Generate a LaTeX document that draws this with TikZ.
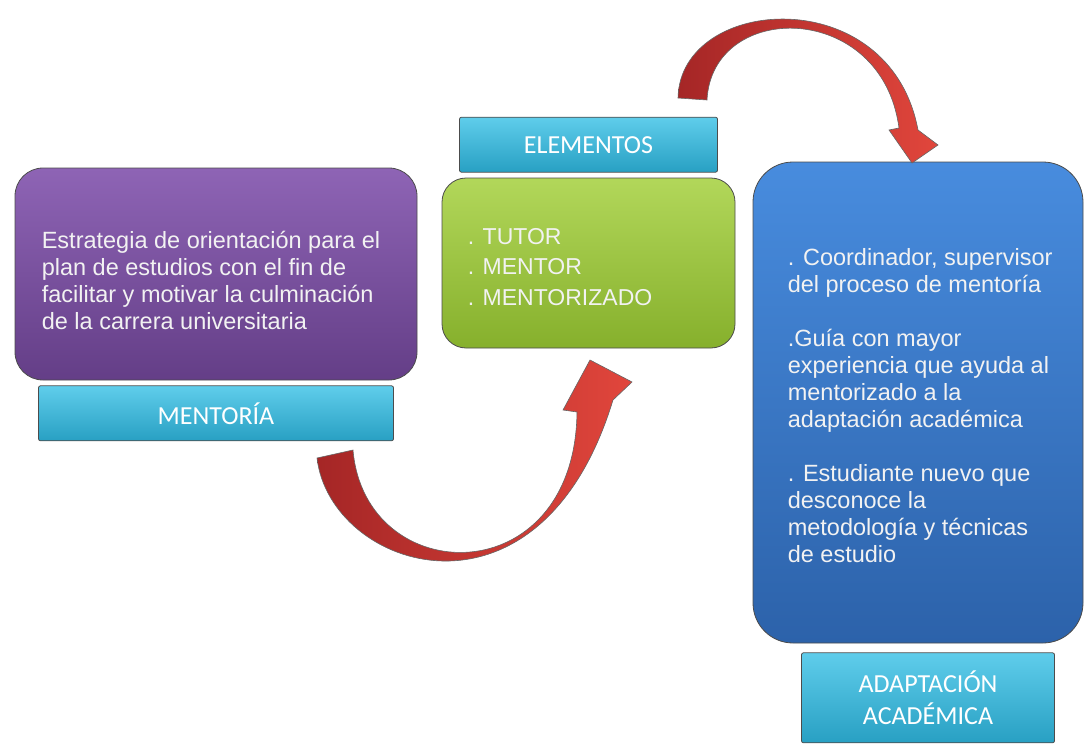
\documentclass[tikz,border=0pt]{standalone}
\usepackage{fontspec}
\setmainfont{Liberation Sans}
\newfontfamily\labelfont{Carlito}
\usetikzlibrary{positioning}
\definecolor{purpletop}{RGB}{142,100,181}
\definecolor{purplebot}{RGB}{100,62,135}
\definecolor{greentop}{RGB}{178,215,90}
\definecolor{greenbot}{RGB}{134,176,44}
\definecolor{bluetop}{RGB}{72,140,222}
\definecolor{bluebot}{RGB}{44,98,170}
\definecolor{cyantop}{RGB}{95,205,235}
\definecolor{cyanbot}{RGB}{40,160,195}
\definecolor{arrowdark}{RGB}{165,38,38}
\definecolor{arrowlight}{RGB}{225,70,60}
\begin{document}
\begin{tikzpicture}[x=1pt,y=-1pt,
  panelbox/.style={draw=black!70,line width=0.8pt,inner sep=0pt},
  tabbox/.style={draw=black!70,line width=0.8pt,rounded corners=2pt,top color=cyantop,bottom color=cyanbot,
    text=white,font=\labelfont\fontsize{26}{32}\selectfont,align=center,inner sep=0pt},
  bodytext/.style={text=white!95!black,align=left,inner sep=0pt,anchor=west,font=\fontsize{23.5}{27}\selectfont},
  bandarrow/.style={draw=black!60,line width=0.6pt,left color=arrowdark,right color=arrowlight}]
\useasboundingbox (0,0) rectangle (1085,744);
% boxes
\node[panelbox,rounded corners=28pt,top color=purpletop,bottom color=purplebot,minimum width=402pt,minimum height=212pt] (mentoria) at (216,274) {};
\node[panelbox,rounded corners=24pt,top color=greentop,bottom color=greenbot,minimum width=293pt,minimum height=170pt] (elementos) at (588.5,263) {};
\node[panelbox,rounded corners=40pt,top color=bluetop,bottom color=bluebot,minimum width=330pt,minimum height=481pt] (adaptacion) at (918,402.5) {};
% labels
\node[tabbox,minimum width=355pt,minimum height=55pt,below=5pt of mentoria] (mentorialabel) {MENTORÍA};
\node[tabbox,minimum width=258pt,minimum height=55pt,above=5pt of elementos] (elementoslabel) {ELEMENTOS};
\node[tabbox,minimum width=253pt,minimum height=90pt,below=9pt of adaptacion,xshift=10pt] (adaptacionlabel) {ADAPTACIÓN\\ACADÉMICA};
% texts
\node[bodytext,xshift=27pt,yshift=-6pt] (mentoriatext) at (mentoria.west) {Estrategia de orientación para el\\plan de estudios con el fin de\\facilitar y motivar la culminación\\de la carrera universitaria};
\node[bodytext,xshift=26pt,yshift=-4pt,font=\fontsize{23}{30.5}\selectfont] (elementostext) at (elementos.west) {. TUTOR\\. MENTOR\\. MENTORIZADO};
\node[bodytext,xshift=35pt,yshift=-3pt] (adaptaciontext) at (adaptacion.west) {. Coordinador, supervisor\\del proceso de mentoría\\[27pt]
  .Guía con mayor\\experiencia que ayuda al\\mentorizado a la\\adaptación académica\\[27pt]
  . Estudiante nuevo que\\desconoce la\\metodología y técnicas\\de estudio};
% arrows
\shade[bandarrow] (317,458) .. controls (330,570) and (540,640) .. (613,400) -- (632,382) -- (590,360) -- (563,410) -- (577,412)
  .. controls (575,595) and (365,590) .. (353,450) -- cycle;
\shade[bandarrow] (678,98) .. controls (680,-5) and (890,-20) .. (918,130) -- (938,145) -- (912,163) -- (889,130) -- (899,128)
  .. controls (882,0) and (712,0) .. (707,100) -- cycle;
\end{tikzpicture}
\end{document}
